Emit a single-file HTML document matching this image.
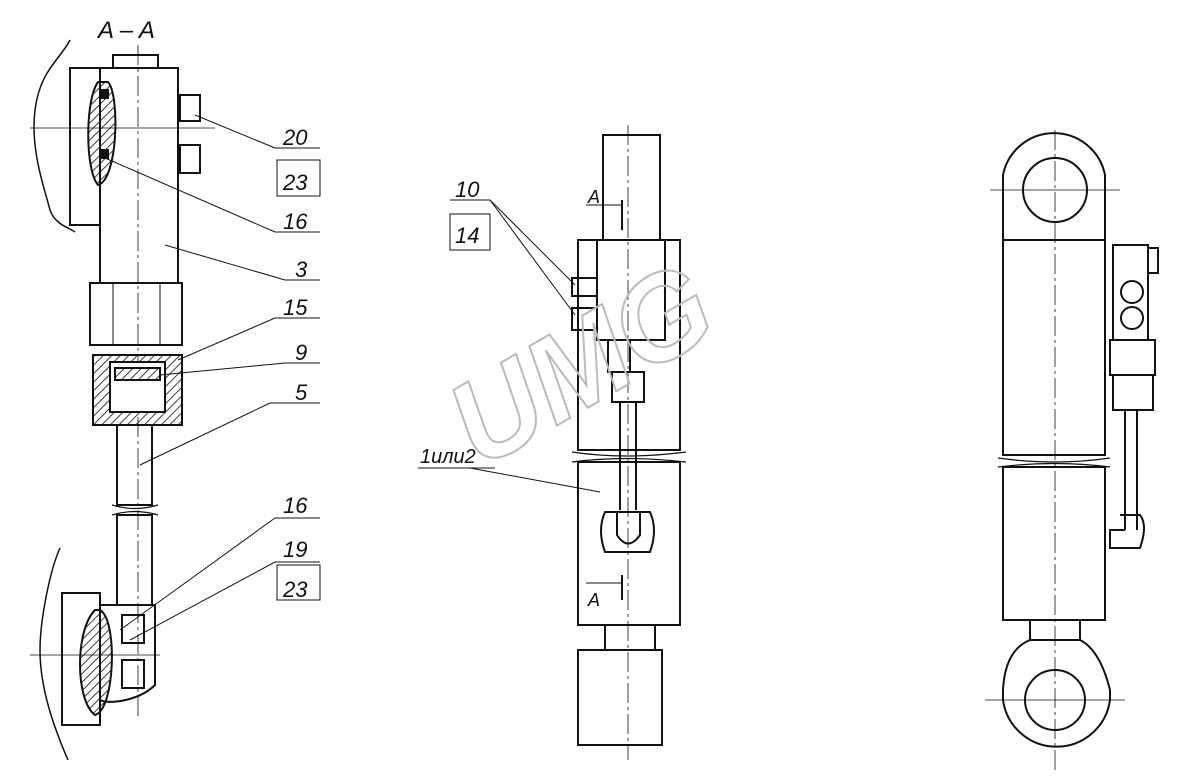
<!DOCTYPE html>
<html><head><meta charset="utf-8"><style>
html,body{margin:0;padding:0;background:#fff}
svg{display:block}
text{font-family:"Liberation Sans",sans-serif;font-style:italic;fill:#111}
</style></head><body>
<svg width="1177" height="779" viewBox="0 0 1177 779" xmlns="http://www.w3.org/2000/svg">
<defs>
<pattern id="h" width="6" height="6" patternUnits="userSpaceOnUse" patternTransform="rotate(45)">
<line x1="0" y1="0" x2="0" y2="6" stroke="#111" stroke-width="1.6"/></pattern>
</defs>
<g fill="none" stroke="#111" stroke-width="2">
<!-- LEFT VIEW -->
<path d="M70 40 C60 60 40 70 35 110 C30 150 45 190 50 210 C55 225 70 228 75 232" stroke-width="1.5"/>
<rect x="70" y="68" width="30" height="157"/>
<rect x="113" y="55" width="45" height="13"/>
<rect x="100" y="68" width="78" height="215"/>
<path d="M98 82 C85 100 85 170 98 185 C118 180 120 95 108 82 Z" fill="url(#h)"/>
<rect x="100" y="90" width="8" height="8" fill="#111"/>
<rect x="100" y="150" width="8" height="8" fill="#111"/>
<rect x="180" y="95" width="20" height="26"/>
<rect x="180" y="145" width="20" height="28"/>
<line x1="30" y1="128" x2="215" y2="128" stroke-width="0.8"/>
<line x1="138" y1="45" x2="138" y2="720" stroke-width="0.8" stroke-dasharray="20 4 3 4"/>
<rect x="90" y="283" width="92" height="62"/>
<line x1="113" y1="283" x2="113" y2="345" stroke-width="1"/>
<line x1="160" y1="283" x2="160" y2="345" stroke-width="1"/>
<rect x="93" y="355" width="89" height="70" fill="url(#h)"/>
<rect x="110" y="362" width="55" height="50" fill="#fff"/>
<rect x="115" y="368" width="45" height="12" fill="url(#h)"/>
<rect x="117" y="425" width="35" height="80"/>
<path d="M112 505 Q135 512 158 505 M112 515 Q135 508 158 515" stroke-width="1.2"/>
<rect x="117" y="515" width="35" height="90"/>
<path d="M60 548 C50 570 40 620 40 650 C40 690 55 730 68 760" stroke-width="1.5"/>
<rect x="62" y="593" width="38" height="132"/>
<path d="M100 605 L155 605 L155 685 C140 700 110 705 100 700 Z"/>
<path d="M95 610 C75 630 75 700 95 715 C115 710 118 620 100 610 Z" fill="url(#h)"/>
<rect x="122" y="615" width="22" height="28"/>
<rect x="122" y="660" width="22" height="28"/>
<line x1="30" y1="655" x2="160" y2="655" stroke-width="0.8"/>
<!-- leaders -->
<g stroke-width="1">
<line x1="195" y1="115" x2="275" y2="148"/><line x1="275" y1="148" x2="320" y2="148"/>
<line x1="105" y1="158" x2="275" y2="232"/><line x1="275" y1="232" x2="320" y2="232"/>
<line x1="165" y1="245" x2="285" y2="280"/><line x1="285" y1="280" x2="320" y2="280"/>
<line x1="178" y1="360" x2="275" y2="318"/><line x1="275" y1="318" x2="320" y2="318"/>
<line x1="160" y1="375" x2="285" y2="363"/><line x1="285" y1="363" x2="320" y2="363"/>
<line x1="140" y1="465" x2="270" y2="403"/><line x1="270" y1="403" x2="320" y2="403"/>
<line x1="120" y1="630" x2="275" y2="518"/><line x1="275" y1="518" x2="320" y2="518"/>
<line x1="130" y1="640" x2="275" y2="562"/><line x1="275" y1="562" x2="320" y2="562"/>
<rect x="277" y="160" width="43" height="36"/>
<rect x="277" y="565" width="43" height="35"/>
</g>
<!-- MIDDLE VIEW -->
<rect x="603" y="135" width="57" height="105"/>
<rect x="578" y="240" width="102" height="210"/>
<rect x="597" y="240" width="68" height="100"/>
<rect x="572" y="278" width="25" height="18"/>
<rect x="572" y="308" width="25" height="22"/>
<rect x="608" y="340" width="22" height="32"/>
<rect x="612" y="372" width="32" height="30"/>
<line x1="620" y1="402" x2="620" y2="510"/><line x1="636" y1="402" x2="636" y2="510"/>
<path d="M572 452 Q625 460 686 452 M572 462 Q625 455 686 462" stroke-width="1.2"/>
<rect x="578" y="462" width="102" height="163"/>
<path d="M605 512 L650 512 Q658 530 650 552 L605 552 Q597 530 605 512Z"/>
<path d="M617 512 L617 535 Q628 552 640 535 L640 512"/>
<rect x="605" y="625" width="50" height="25"/>
<rect x="578" y="650" width="84" height="95"/>
<line x1="628" y1="125" x2="628" y2="760" stroke-width="0.8" stroke-dasharray="20 4 3 4"/>
<g stroke-width="1">
<line x1="586" y1="205" x2="622" y2="205"/><line x1="622" y1="200" x2="622" y2="230" stroke-width="2"/>
<line x1="586" y1="583" x2="622" y2="583"/><line x1="622" y1="575" x2="622" y2="600" stroke-width="2"/>
<line x1="490" y1="200" x2="575" y2="285"/><line x1="450" y1="200" x2="490" y2="200"/>
<line x1="490" y1="200" x2="575" y2="315"/>
<rect x="450" y="214" width="40" height="36"/>
<line x1="418" y1="468" x2="495" y2="468"/><line x1="470" y1="468" x2="600" y2="492"/>
</g>
<!-- RIGHT VIEW -->
<path d="M1003 240 L1003 175 A52 52 0 0 1 1105 175 L1105 240"/>
<circle cx="1055" cy="190" r="32"/>
<rect x="1003" y="240" width="102" height="215"/>
<path d="M998 458 Q1055 466 1110 458 M998 467 Q1055 460 1110 467" stroke-width="1.2"/>
<rect x="1003" y="467" width="102" height="153"/>
<rect x="1030" y="620" width="50" height="20"/>
<path d="M1003 700 A54 54 0 0 0 1110 700 L1110 690 Q1100 650 1080 640 L1030 640 Q1005 650 1003 690 Z"/>
<circle cx="1055" cy="700" r="30"/>
<line x1="1055" y1="130" x2="1055" y2="770" stroke-width="0.8" stroke-dasharray="20 4 3 4"/>
<line x1="990" y1="190" x2="1120" y2="190" stroke-width="0.8"/>
<line x1="985" y1="700" x2="1125" y2="700" stroke-width="0.8"/>
<rect x="1113" y="245" width="35" height="95"/>
<rect x="1148" y="248" width="10" height="25"/>
<circle cx="1132" cy="292" r="11"/><circle cx="1132" cy="318" r="11"/>
<rect x="1110" y="340" width="45" height="35"/>
<rect x="1113" y="375" width="40" height="35"/>
<line x1="1125" y1="410" x2="1125" y2="530"/><line x1="1137" y1="410" x2="1137" y2="530"/>
<path d="M1120 515 L1140 515 Q1148 525 1140 548 L1110 548 L1110 530 L1125 530"/>
</g>
<!-- watermark -->
<text x="0" y="0" transform="translate(480,470) rotate(-30)" font-size="120" font-style="normal" font-weight="bold" fill="none" stroke="#bbb" stroke-width="2" style="fill:none">UMG</text>
<!-- labels -->
<text x="98" y="38" font-size="24" font-style="normal">A – A</text>
<g font-size="22">
<text x="283" y="145">20</text><text x="283" y="190">23</text>
<text x="283" y="229">16</text><text x="295" y="277">3</text>
<text x="283" y="315">15</text><text x="295" y="360">9</text>
<text x="295" y="400">5</text><text x="283" y="513">16</text>
<text x="283" y="557">19</text><text x="283" y="597">23</text>
<text x="455" y="197">10</text><text x="455" y="243">14</text>
<text x="420" y="463" font-size="20">1или2</text>
</g>
<text x="588" y="203" font-size="18">A</text>
<text x="588" y="606" font-size="18">A</text>
</svg>
</body></html>
